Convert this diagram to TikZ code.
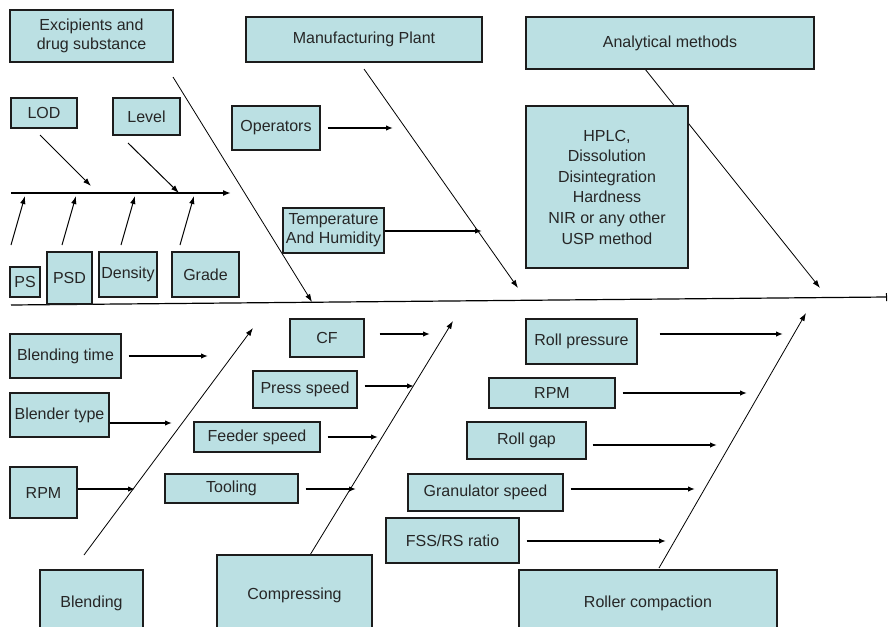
\documentclass[tikz,border=0pt]{standalone}
\usepackage{fontspec}
\setmainfont{Liberation Sans}
\usetikzlibrary{arrows.meta}
\definecolor{boxfill}{HTML}{BBE0E3}
\definecolor{boxline}{HTML}{1C1C1C}
\definecolor{ink}{HTML}{262626}
% box given by its corners (x1,y1) (x2,y2), y measured downwards
\newcommand\fbbox[6]{\node[box, minimum width={(#4-#2)*1pt}, minimum height={(#5-#3)*1pt}] (#1) at ({(#2+#4)/2},{(#3+#5)/2}) {#6};}
\begin{document}
\begin{tikzpicture}[x=1pt, y=-1pt,
  box/.style={draw=boxline, fill=boxfill, line width=1.3pt, inner sep=0pt,
    align=center, text=ink, font=\fontsize{16}{19}\selectfont},
  bone/.style={line width=0.8pt, -{Latex[length=8pt,width=5.5pt]}},
  hand/.style={line width=1.4pt, -{Latex[length=7pt,width=5.5pt]}},
  spine/.style={line width=1.2pt}]
\useasboundingbox (0,0) rectangle (888,626);
\clip (0,0) rectangle (888,626);

% ---- connector end points ----
\coordinate (spL) at (11,305);
\coordinate (spR) at (887,297);
\coordinate (excS) at (173,77);   \coordinate (excT) at (312,302);
\coordinate (mpS) at (364,69);    \coordinate (mpT) at (518,288);
\coordinate (amS) at (645,69);    \coordinate (amT) at (820,288);
\coordinate (blS) at (84,555);    \coordinate (blT) at (253,328);
\coordinate (coS) at (310,555);   \coordinate (coT) at (453,321);
\coordinate (roS) at (659,568);   \coordinate (roT) at (806,313);
\coordinate (subL) at (11,193);   \coordinate (subR) at (231,193);
\coordinate (lodS) at (40,135);   \coordinate (lodT) at (91,186);
\coordinate (levS) at (128,143);  \coordinate (levT) at (179,193);
\coordinate (psS) at (11,245);    \coordinate (psT) at (25,196);
\coordinate (psdS) at (62,245);   \coordinate (psdT) at (76,196);
\coordinate (denS) at (121,245);  \coordinate (denT) at (135,196);
\coordinate (grdS) at (180,245);  \coordinate (grdT) at (194,196);
\coordinate (opsT) at (393,128);
\coordinate (tempT) at (482,231);
\coordinate (bltT) at (208,356);
\coordinate (btyT) at (172,423);
\coordinate (rpmaT) at (135,489);
\coordinate (cfT) at (430,334);
\coordinate (pssT) at (414,386);
\coordinate (fdsT) at (378,437);
\coordinate (toolT) at (356,489);
\coordinate (rpT) at (783,334);
\coordinate (rpmbT) at (747,393);
\coordinate (rgT) at (717,445);
\coordinate (gsT) at (695,489);
\coordinate (fssT) at (666,541);

% ---- main spine and major bones ----
\draw[spine, -{Bar[width=8pt,line width=1pt]}] (spL) -- (spR);
\draw[bone] (excS) -- (excT);
\draw[bone] (mpS) -- (mpT);
\draw[bone] (amS) -- (amT);
\draw[bone] (blS) -- (blT);
\draw[bone] (coS) -- (coT);
\draw[bone] (roS) -- (roT);

% ---- small fishbone of excipients ----
\draw[line width=1.8pt, -{Latex[length=8pt,width=6pt]}] (subL) -- (subR);
\draw[bone, line width=1pt] (lodS) -- (lodT);
\draw[bone, line width=1pt] (levS) -- (levT);
\draw[bone, line width=1pt] (psS) -- (psT);
\draw[bone, line width=1pt] (psdS) -- (psdT);
\draw[bone, line width=1pt] (denS) -- (denT);
\draw[bone, line width=1pt] (grdS) -- (grdT);

% ---- boxes ----
\fbbox{exc}{10}{10}{173}{62}{Excipients and\\drug substance}
\fbbox{mp}{246}{17}{482}{62}{Manufacturing Plant}
\fbbox{am}{526}{17}{814}{69}{Analytical methods}
\fbbox{lod}{11}{98}{77}{128}{LOD}
\fbbox{lev}{113}{98}{180}{135}{Level}
\fbbox{ops}{232}{106}{320}{150}{Operators}
\node[box, minimum width=162pt, minimum height=162pt, font=\fontsize{16}{20.6}\selectfont]
  (hplc) at (607,187) {HPLC,\\Dissolution\\Disintegration\\Hardness\\NIR or any other\\USP method};
\fbbox{temp}{283}{208}{384}{253}{Temperature\\And Humidity}
\fbbox{ps}{10}{267}{40}{297}{PS}
\fbbox{psd}{47}{252}{92}{304}{PSD}
\fbbox{den}{99}{252}{157}{297}{Density}
\fbbox{grd}{172}{252}{239}{297}{Grade}
\fbbox{blt}{10}{334}{121}{378}{Blending time}
\fbbox{bty}{10}{393}{109}{437}{Blender type}
\fbbox{rpma}{10}{467}{77}{518}{RPM}
\fbbox{cf}{290}{319}{364}{357}{CF}
\fbbox{pss}{253}{371}{357}{408}{Press speed}
\fbbox{fds}{194}{422}{320}{452}{Feeder speed}
\fbbox{tool}{165}{474}{298}{503}{Tooling}
\fbbox{rp}{526}{319}{637}{364}{Roll pressure}
\fbbox{rpmb}{489}{378}{615}{408}{RPM}
\fbbox{rg}{467}{422}{586}{459}{Roll gap}
\fbbox{gs}{408}{474}{563}{511}{Granulator speed}
\fbbox{fss}{386}{518}{519}{563}{FSS/RS ratio}
\fbbox{blend}{40}{570}{143}{636}{Blending}
\fbbox{comp}{217}{555}{372}{635}{Compressing}
\fbbox{roll}{519}{570}{777}{636}{Roller compaction}

% ---- cause arrows ----
\draw[hand, shorten <=7pt] (ops.east |- opsT) -- (opsT);
\draw[hand] (temp.east |- tempT) -- (tempT);
\draw[hand, shorten <=7pt] (blt.east |- bltT) -- (bltT);
\draw[hand] (bty.east |- btyT) -- (btyT);
\draw[hand] (rpma.east |- rpmaT) -- (rpmaT);
\draw[hand, shorten <=15pt] (cf.east |- cfT) -- (cfT);
\draw[hand, shorten <=7pt] (pss.east |- pssT) -- (pssT);
\draw[hand, shorten <=7pt] (fds.east |- fdsT) -- (fdsT);
\draw[hand, shorten <=7pt] (tool.east |- toolT) -- (toolT);
\draw[hand, shorten <=22pt] (rp.east |- rpT) -- (rpT);
\draw[hand, shorten <=7pt] (rpmb.east |- rpmbT) -- (rpmbT);
\draw[hand, shorten <=6pt] (rg.east |- rgT) -- (rgT);
\draw[hand, shorten <=7pt] (gs.east |- gsT) -- (gsT);
\draw[hand, shorten <=7pt] (fss.east |- fssT) -- (fssT);
\end{tikzpicture}
\end{document}
